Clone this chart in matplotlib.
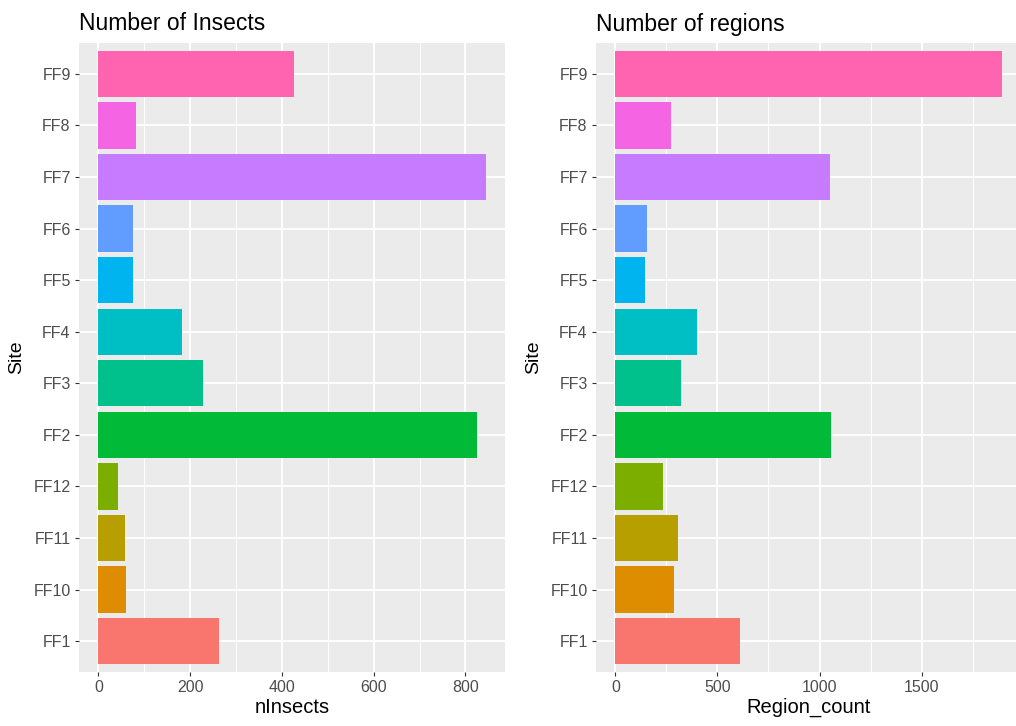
import matplotlib.pyplot as plt
import numpy as np

plt.rcParams['font.family'] = ['Liberation Sans', 'DejaVu Sans']

# sites in ggplot factor order (bottom to top)
sites = ['FF1', 'FF10', 'FF11', 'FF12', 'FF2', 'FF3', 'FF4', 'FF5', 'FF6', 'FF7', 'FF8', 'FF9']
n_insects = [262, 61, 58, 43, 826, 228, 183, 75, 75, 844, 81, 426]
region_count = [612, 287, 307, 235, 1058, 320, 398, 143, 157, 1052, 274, 1892]
colors = ['#F8766D', '#DE8C00', '#B79F00', '#7CAE00', '#00BA38', '#00C08B',
          '#00BFC4', '#00B4F0', '#619CFF', '#C77CFF', '#F564E3', '#FF64B0']

left_ticks = [0, 200, 400, 600, 800]
right_ticks = [0, 500, 1000, 1500]

W, H = 1016, 726
fig = plt.figure(figsize=(W / 100, H / 100), dpi=100)


def panel(x0, x1, values, ticks, title, xlabel):
    ax = fig.add_axes([x0 / W, (H - 672) / H, (x1 - x0) / W, (672 - 43) / H])
    ax.set_facecolor('#EBEBEB')
    vmax = max(values)
    ax.set_xlim(-0.05 * vmax, 1.05 * vmax)
    ax.set_ylim(0.4 - 1, len(sites) - 0.4)
    ypos = np.arange(len(sites))
    ax.barh(ypos, values, height=0.9, color=colors, zorder=3)

    step = ticks[1] - ticks[0]
    minor = [t + step / 2 for t in [ticks[0] - step] + ticks]
    minor = [m for m in minor if -0.05 * vmax < m < 1.05 * vmax]
    for m in minor:
        ax.axvline(m, color='white', lw=0.7, zorder=1)
    for t in ticks:
        ax.axvline(t, color='white', lw=1.3, zorder=1)
    for y in ypos:
        ax.axhline(y, color='white', lw=1.3, zorder=1)

    ax.set_xticks(ticks)
    ax.set_xticklabels([str(t) for t in ticks])
    ax.set_yticks(ypos)
    ax.set_yticklabels(sites)
    ax.tick_params(axis='both', length=3, width=0.8, color='#333333',
                   labelcolor='#4D4D4D', labelsize=11.5, pad=3)
    for s in ax.spines.values():
        s.set_visible(False)
    ax.set_title(title, loc='left', fontsize=16.5, pad=9, x=0)
    ax.set_xlabel(xlabel, fontsize=14.5, labelpad=2)
    ax.set_ylabel('Site', fontsize=14, labelpad=6)
    return ax


panel(79, 505, n_insects, left_ticks, 'Number of Insects', 'nInsects')
panel(596, 1021, region_count, right_ticks, 'Number of regions', 'Region_count')

fig.savefig('out.png', dpi=100)
